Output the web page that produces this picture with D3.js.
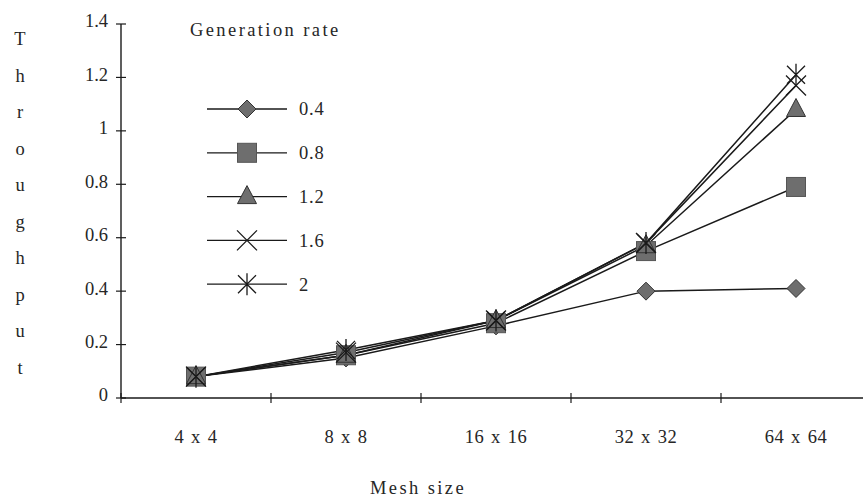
<!DOCTYPE html>
<html>
<head>
<meta charset="utf-8">
<script src="https://cdn.jsdelivr.net/npm/d3@7"></script>
<style>
  html, body { margin: 0; padding: 0; background: #fff; }
  svg { display: block; }
  text { font-family: "Liberation Serif", "DejaVu Serif", serif; fill: #262626; }
</style>
</head>
<body>
<svg id="chart" width="863" height="501"></svg>
<script>
// Mesh sizes along the x axis
const meshSizes = ["4 x 4", "8 x 8", "16 x 16", "32 x 32", "64 x 64"];
// Generation rates (one series each)
const rates = ["0.4", "0.8", "1.2", "1.6", "2"];
// Throughput per mesh size, one array per generation rate
const rate04 = [0.08, 0.15, 0.27, 0.40, 0.41];
const rate08 = [0.08, 0.16, 0.28, 0.55, 0.79];
const rate12 = [0.08, 0.16, 0.29, 0.57, 1.08];
const rate16 = [0.08, 0.17, 0.29, 0.58, 1.17];
const rate20 = [0.08, 0.18, 0.29, 0.58, 1.21];
const yTicks = [0, 0.2, 0.4, 0.6, 0.8, 1, 1.2, 1.4];
const yTickLabels = ["0", "0.2", "0.4", "0.6", "0.8", "1", "1.2", "1.4"];
const markerKinds = ["diamond", "square", "triangle", "cross", "star"];

const series = [rate04, rate08, rate12, rate16, rate20].map((vals, i) => ({
  rate: rates[i], kind: markerKinds[i], values: vals
}));

const svg = d3.select("#chart");
const x = d3.scaleBand().domain(meshSizes).range([121, 871]).padding(0);
const y = d3.scaleLinear().domain([0, 1.4]).range([398, 24]);
const cx = d => x(d) + x.bandwidth() / 2;

const ink = "#1a1a1a";
const markFill = "#6e6e6e";
const fs = 18.5;

// Axes
const g = svg.append("g");
g.append("line").attr("x1", 121).attr("x2", 121).attr("y1", y(1.4)).attr("y2", y(0))
  .attr("stroke", ink).attr("stroke-width", 1.4);
g.append("line").attr("x1", 121).attr("x2", 872).attr("y1", y(0)).attr("y2", y(0))
  .attr("stroke", ink).attr("stroke-width", 1.4);

g.selectAll(".ytick").data(yTicks).join("line")
  .attr("x1", 116).attr("x2", 126)
  .attr("y1", d => y(d)).attr("y2", d => y(d))
  .attr("stroke", ink).attr("stroke-width", 1.2);
g.selectAll(".ylab").data(yTicks).join("text")
  .attr("x", 108).attr("y", d => y(d) - 3).attr("dy", "0.35em")
  .attr("text-anchor", "end").attr("font-size", fs)
  .text((d, i) => yTickLabels[i]);

const xBounds = meshSizes.map(m => x(m));
g.selectAll(".xtick").data(xBounds).join("line")
  .attr("x1", d => d).attr("x2", d => d)
  .attr("y1", y(0) - 5).attr("y2", y(0) + 5)
  .attr("stroke", ink).attr("stroke-width", 1.2);
g.selectAll(".xlab").data(meshSizes).join("text")
  .attr("x", d => cx(d)).attr("y", 443)
  .attr("text-anchor", "middle").attr("font-size", fs)
  .attr("letter-spacing", 0.6).attr("word-spacing", 1.5)
  .text(d => d);

// Axis titles
svg.append("text").attr("x", 418).attr("y", 494).attr("text-anchor", "middle")
  .attr("font-size", fs).attr("letter-spacing", 2.4).text("Mesh size");
const yTitle = "Throughput".split("");
svg.selectAll(".ytitle").data(yTitle).join("text")
  .attr("x", 20).attr("y", (d, i) => 45 + i * 36.5)
  .attr("text-anchor", "middle").attr("font-size", fs)
  .text(d => d);

// Marker drawing
function drawMarker(sel, kind, px, py) {
  const m = sel.append("g").attr("transform", `translate(${px},${py})`);
  if (kind === "diamond") {
    m.append("path").attr("d", "M0,-9L9,0L0,9L-9,0Z")
      .attr("fill", markFill).attr("stroke", "#333").attr("stroke-width", 1);
  } else if (kind === "square") {
    m.append("rect").attr("x", -9.5).attr("y", -9.5).attr("width", 19).attr("height", 19)
      .attr("fill", markFill).attr("stroke", "#555").attr("stroke-width", 1);
  } else if (kind === "triangle") {
    m.append("path").attr("d", "M0,-11L9.5,7L-9.5,7Z")
      .attr("fill", markFill).attr("stroke", "#333").attr("stroke-width", 1);
  } else if (kind === "cross") {
    m.append("path").attr("d", "M-10,-10L10,10M-10,10L10,-10")
      .attr("stroke", ink).attr("stroke-width", 1.3).attr("fill", "none");
  } else if (kind === "star") {
    m.append("path").attr("d", "M-9,-9L9,9M-9,9L9,-9M0,-11L0,11")
      .attr("stroke", ink).attr("stroke-width", 1.3).attr("fill", "none");
  }
}

// Series lines and markers
const line = d3.line().x((d, i) => cx(meshSizes[i])).y(d => y(d));
const plot = svg.append("g");
series.forEach(s => {
  plot.append("path").datum(s.values).attr("d", line)
    .attr("fill", "none").attr("stroke", ink).attr("stroke-width", 1.5);
});
series.forEach(s => {
  s.values.forEach((v, i) => drawMarker(plot, s.kind, cx(meshSizes[i]), y(v)));
});

// Legend
const legend = svg.append("g");
legend.append("text").attr("x", 190).attr("y", 36).attr("font-size", fs)
  .attr("letter-spacing", 2.4).text("Generation rate");
series.forEach((s, i) => {
  const ly = 109 + i * 43.8;
  legend.append("line").attr("x1", 207).attr("x2", 287).attr("y1", ly).attr("y2", ly)
    .attr("stroke", ink).attr("stroke-width", 1.3);
  drawMarker(legend, s.kind, 247, ly);
  legend.append("text").attr("x", 299).attr("y", ly).attr("dy", "0.35em")
    .attr("font-size", fs).attr("letter-spacing", 0.8).text(s.rate);
});
</script>
</body>
</html>
